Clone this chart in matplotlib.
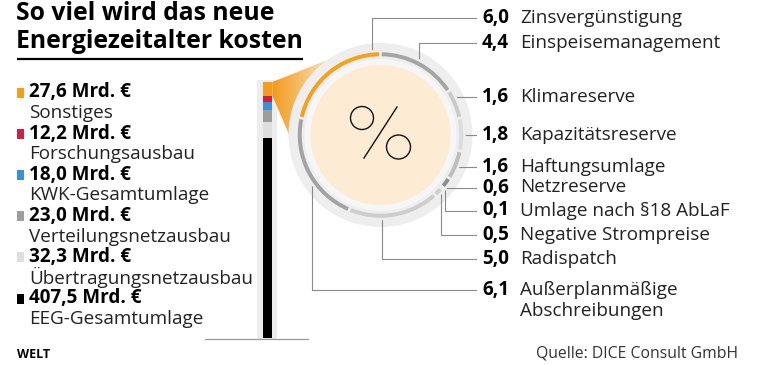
import matplotlib
matplotlib.use('Agg')
import matplotlib.pyplot as plt
import numpy as np
from matplotlib.patches import Circle, Polygon, Rectangle
from matplotlib.colors import LinearSegmentedColormap

plt.rcParams['font.family'] = ['Open Sans', 'DejaVu Sans']

# stacked bar (Mrd. Euro), top to bottom
cost_labels = ['Sonstiges', 'Forschungsausbau', 'KWK-Gesamtumlage',
               'Verteilungsnetzausbau', 'Übertragungsnetzausbau', 'EEG-Gesamtumlage']
cost_values = [27.6, 12.2, 18.0, 23.0, 32.3, 407.5]
cost_colors = ['#f39c1e', '#cf1f45', '#3b8fd4', '#9d9d9d', '#dedede', '#000000']

# breakdown of "Sonstiges" (ring), clockwise from the orange segment
other_labels = ['Zinsvergünstigung', 'Einspeisemanagement', 'Klimareserve',
                'Kapazitätsreserve', 'Haftungsumlage', 'Netzreserve',
                'Umlage nach §18 AbLaF', 'Negative Strompreise', 'Radispatch',
                'Außerplanmäßige\nAbschreibungen']
other_values = [6.0, 4.4, 1.6, 1.8, 1.6, 0.6, 0.1, 0.5, 5.0, 6.1]
ring_colors = ['#f5a11c', '#a5a5a5', '#cacaca', '#dcdcdc', '#bdbdbd',
               '#8e8e8e', '#c4c4c4', '#d0d0d0', '#cdcdcd', '#a3a3a3']

# label layout (pixel rows) and leader style: ('v', angle) or ('h', None)
label_y = [18, 43, 97, 135, 167, 187.5, 210.5, 235, 259, 290]
leaders = [('v', 96), ('v', 62), ('h', None), ('h', None), ('h', None),
           ('h', None), ('v', -39.5), ('v', -43), ('v', -89), ('v', -146)]

fmt = lambda v: f'{v:.1f}'.replace('.', ',')
FS = 13.6

fig = plt.figure(figsize=(7.68, 3.65), dpi=100)
ax = fig.add_axes([0, 0, 1, 1])

# title
ax.text(16, 13, 'So viel wird das neue', fontsize=17.8, fontweight='bold', va='center')
ax.text(16, 41, 'Energiezeitalter kosten', fontsize=17.8, fontweight='bold', va='center')
ax.plot([17, 303], [59, 59], color='black', lw=1.6, solid_capstyle='butt')

# legend left
for i, (lab, v, c) in enumerate(zip(cost_labels, cost_values, cost_colors)):
    yv = 92.5 + i * 41.2
    ax.add_patch(Rectangle((17, yv - 5), 6.5, 10, color=c, lw=0))
    ax.text(29, yv, fmt(v) + ' Mrd. €', fontsize=FS, fontweight='bold', va='center')
    ax.text(29, yv + 20.5, lab, fontsize=FS, color='#222222', va='center')

# stacked bar
bar_top, bar_bot, bar_x0, bar_x1 = 82, 338, 263, 272.3
total = sum(cost_values)
ax.add_patch(Rectangle((257, 80), 20, 259, color='#ededed', lw=0, zorder=0))
ax.plot([205, 308], [339, 339], color='#9a9a9a', lw=0.9)
axb = fig.add_axes([bar_x0 / 768, 1 - bar_bot / 365, (bar_x1 - bar_x0) / 768,
                    (bar_bot - bar_top) / 365])
cum = 0
for v, c in zip(cost_values, cost_colors):
    axb.bar(0, v, bottom=cum, width=1, color=c, lw=0)
    cum += v
axb.set_ylim(total, 0)
axb.set_xlim(-0.5, 0.5)
axb.axis('off')

# fan from the orange segment to the circle
y_orange = bar_top + (bar_bot - bar_top) * cost_values[0] / total
fan = Polygon([(bar_x1, bar_top), (345, 53), (300, 160), (bar_x1, y_orange)],
              closed=True, facecolor='none', edgecolor='none')
ax.add_patch(fan)
cmap = LinearSegmentedColormap.from_list('fan', ['#f29a1c', '#fbe2ba'])
im = ax.imshow(np.linspace(0, 1, 256).reshape(1, -1), extent=(bar_x1, 330, 160, 52),
               cmap=cmap, aspect='auto', zorder=1)
im.set_clip_path(fan)

# circle
cx, cy = 380.5, 135
ax.add_patch(Circle((cx, cy), 92, color='#eeeeee', lw=0, zorder=2))
ax.add_patch(Circle((cx, cy), 76, color='#f6f6f6', lw=0, zorder=2))
start = -(90 + 360 * other_values[0] / sum(other_values))
wedges, _ = ax.pie(other_values, colors=ring_colors, center=(cx, cy), radius=84,
                   startangle=start, counterclock=True,
                   wedgeprops=dict(width=6.5, edgecolor='#eeeeee', linewidth=1.8))
for w in wedges:
    w.set_zorder(3)
ax.add_patch(Circle((cx, cy), 70, color='#fdebd4', lw=0, zorder=4))
# percent icon
ax.add_patch(Circle((cx - 18.5, cy - 17), 11.5, fill=False, ec='#111111', lw=1.0, zorder=5))
ax.add_patch(Circle((cx + 18, cy + 12), 12, fill=False, ec='#111111', lw=1.0, zorder=5))
ax.plot([cx + 16.5, cx - 16.5], [cy - 28, cy + 23], color='#111111', lw=1.0, zorder=5)

# leaders and labels on the right
x_end = 476
for lab, v, yl, (kind, ang) in zip(other_labels, other_values, label_y, leaders):
    if kind == 'h':
        dy = yl - cy
        xs = cx + np.sqrt(84 ** 2 - dy ** 2)
        ax.plot([xs, x_end], [yl, yl], color='#8a8a8a', lw=0.8)
    else:
        t = np.deg2rad(ang)
        xa, ya = cx + 83 * np.cos(t), cy - 83 * np.sin(t)
        ax.plot([xa, xa, x_end], [ya, yl, yl], color='#8a8a8a', lw=0.8)
    ax.text(482, yl, fmt(v), fontsize=FS, fontweight='bold', va='center')
    for k, line in enumerate(lab.split('\n')):
        ax.text(520, yl + k * 21.5, line, fontsize=FS, color='#222222', va='center')

# footer
ax.text(17, 355, 'WELT', fontsize=9, fontweight='bold', va='center')
ax.text(738, 353, 'Quelle: DICE Consult GmbH', fontsize=11.3, color='#333333',
        ha='right', va='center')

ax.set_xlim(0, 768)
ax.set_ylim(365, 0)
ax.set_aspect('auto')
ax.axis('off')

fig.savefig('out.png', dpi=100, facecolor='white')
